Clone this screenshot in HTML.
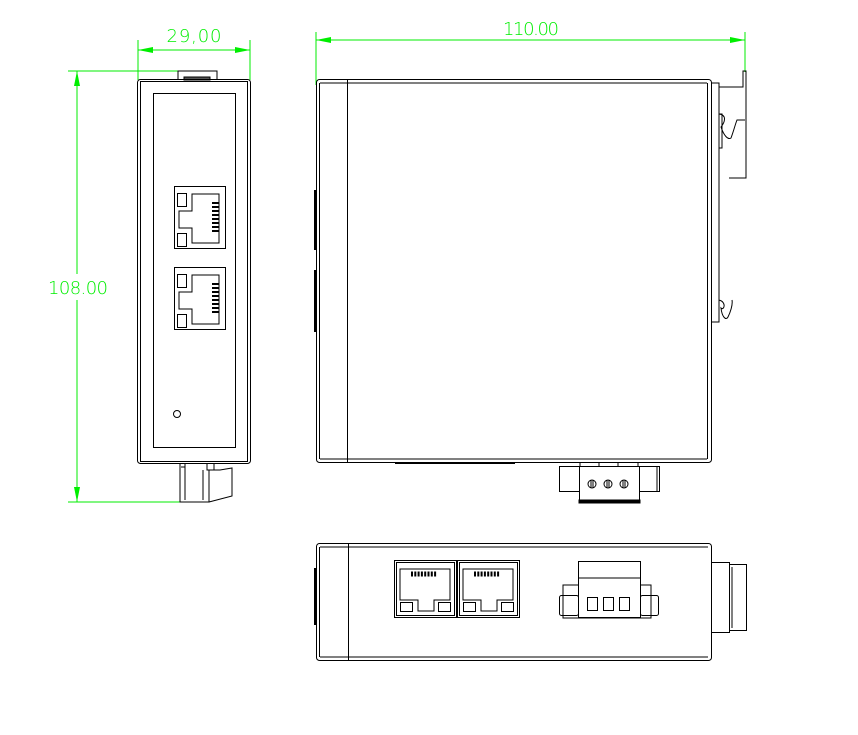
<!DOCTYPE html>
<html><head><meta charset="utf-8"><style>html,body{margin:0;padding:0;background:#fff}svg{display:block}</style></head>
<body>
<svg width="858" height="735" viewBox="0 0 858 735" xmlns="http://www.w3.org/2000/svg">
<g fill="none" stroke="#00ee00" stroke-width="1">
  <line x1="138" y1="40" x2="138" y2="80"/><line x1="250" y1="40" x2="250" y2="80"/>
  <line x1="138" y1="50" x2="250" y2="50"/>
  <line x1="68" y1="71" x2="178" y2="71"/><line x1="68" y1="502" x2="180" y2="502"/>
  <line x1="77" y1="71" x2="77" y2="274"/><line x1="77" y1="300" x2="77" y2="502"/>
  <line x1="316" y1="32" x2="316" y2="85"/><line x1="745" y1="32" x2="745" y2="72"/>
  <line x1="316" y1="40" x2="745" y2="40"/>
</g>
<g fill="#00ee00">
  <polygon points="138,50 153,47 153,53"/><polygon points="250,50 235,47 235,53"/>
  <polygon points="77,71 74,86 80,86"/><polygon points="77,502 74,487 80,487"/>
  <polygon points="316,40 331,37 331,43"/><polygon points="745,40 730,37 730,43"/>
</g>
<g fill="#00ee00" font-family="DejaVu Sans, Liberation Sans, sans-serif" font-size="18" font-weight="200">
  <text x="194" y="42" text-anchor="middle" textLength="55">29,00</text>
  <text x="78" y="294" text-anchor="middle" textLength="60">108.00</text>
  <text x="531" y="35" text-anchor="middle" textLength="56">110.00</text>
</g>
<g fill="none" stroke="#000" stroke-width="1">
  <path d="M178,80 V71 H217 V80"/><rect x="184" y="77" width="26" height="3" fill="#555"/>
  <rect x="137.5" y="79.5" width="113" height="384" rx="3"/>
  <rect x="140.5" y="81.5" width="107" height="380"/>
  <rect x="153.5" y="93.5" width="82" height="354"/>
  <g id="rj">
    <rect x="174.5" y="186.5" width="51" height="62"/>
    <path d="M192,194 H219 V243 H192 V228 H179 V211 H192 Z"/>
    <rect x="177.5" y="193.5" width="9" height="13"/><rect x="177.5" y="233.5" width="9" height="13"/>
    <g stroke="#000" stroke-width="2"><line x1="212" y1="203" x2="219" y2="203"/><line x1="212" y1="207" x2="219" y2="207"/><line x1="212" y1="211" x2="219" y2="211"/><line x1="212" y1="215" x2="219" y2="215"/><line x1="212" y1="219" x2="219" y2="219"/><line x1="212" y1="223" x2="219" y2="223"/><line x1="212" y1="227" x2="219" y2="227"/><line x1="212" y1="231" x2="219" y2="231"/></g>
  </g>
  <use href="#rj" y="81"/>
  <circle cx="177" cy="414" r="3.5"/>
  <path d="M180,464 V502 H209 V470 H214 V464"/><line x1="181" y1="467" x2="185" y2="467"/>
  <path d="M207,464 V470 H220 L232,468 V496 L209,502"/><line x1="185" y1="464" x2="185" y2="500"/><line x1="203" y1="470" x2="203" y2="500"/>
  <rect x="316.5" y="79.5" width="395" height="383" rx="3"/>
  <line x1="320" y1="83" x2="707" y2="83"/><line x1="320" y1="459" x2="707" y2="459"/>
  <line x1="319.5" y1="83" x2="319.5" y2="459"/><line x1="347.5" y1="80" x2="347.5" y2="462"/>
  <line x1="707.5" y1="83" x2="707.5" y2="459"/>
  <rect x="314" y="190" width="2" height="60" fill="#000" stroke="none"/>
  <rect x="314" y="270" width="2" height="62" fill="#000" stroke="none"/>
  <line x1="395" y1="463" x2="515" y2="463" stroke-width="2"/>
  <path d="M711,83 H719 V87 H743 V71 H746 V178 H729"/>
  <path d="M719,87 V114 C727,115 725,122 721,127 C724,136 728,140 731,138 C734,130 735,125 737,120 H745"/>
  <rect x="719" y="114" width="3" height="34"/>
  <path d="M719,127 V300 C727,302 724,311 721,308 C722,317 726,321 728,317 C730,313 733,305 732,300"/>
  <path d="M711,322 H719 V300"/>
  <rect x="559.5" y="466.5" width="20" height="25"/><rect x="639.5" y="466.5" width="20" height="25"/>
  <line x1="657" y1="466" x2="657" y2="491"/>
  <rect x="579.5" y="466.5" width="60" height="36"/>
  <rect x="579" y="500" width="61" height="3" fill="#000"/>
  <line x1="580" y1="462" x2="580" y2="467"/><line x1="599" y1="462" x2="599" y2="467"/><line x1="618" y1="462" x2="618" y2="467"/><line x1="638" y1="462" x2="638" y2="467"/>
  <circle cx="592" cy="484" r="4"/><circle cx="608" cy="484" r="4"/><circle cx="624" cy="484" r="4"/>
  <line x1="591" y1="480" x2="591" y2="488"/><line x1="593" y1="480" x2="593" y2="488"/>
  <line x1="607" y1="480" x2="607" y2="488"/><line x1="609" y1="480" x2="609" y2="488"/>
  <line x1="623" y1="480" x2="623" y2="488"/><line x1="625" y1="480" x2="625" y2="488"/>
  <rect x="316.5" y="543.5" width="395" height="117" rx="3"/>
  <line x1="320" y1="547" x2="708" y2="547"/><line x1="320" y1="657" x2="708" y2="657"/>
  <line x1="319.5" y1="547" x2="319.5" y2="657"/><line x1="348.5" y1="544" x2="348.5" y2="660"/>
  <rect x="314" y="568" width="2" height="57" fill="#000" stroke="none"/>
  <g id="rb">
    <rect x="394.5" y="560.5" width="62" height="57"/><rect x="396.5" y="562.5" width="58" height="53"/>
    <path d="M400,569 H450 V600 H434 V611 H418 V600 H400 Z"/>
    <rect x="400.5" y="602.5" width="12" height="9"/><rect x="438.5" y="602.5" width="12" height="9"/>
    <line x1="411" y1="574" x2="437" y2="574" stroke-width="5" stroke-dasharray="2,1.3"/>
  </g>
  <use href="#rb" x="63"/>
  <rect x="578.5" y="561.5" width="62" height="56"/><line x1="578" y1="578" x2="641" y2="578"/>
  <path d="M578,585 H563 V618 H651 V585 H640"/>
  <rect x="559.5" y="595.5" width="19" height="20" rx="2"/><rect x="640.5" y="595.5" width="18" height="20" rx="2"/>
  <rect x="587.5" y="597.5" width="10" height="13"/><rect x="603.5" y="597.5" width="10" height="13"/><rect x="619.5" y="597.5" width="10" height="13"/>
  <rect x="711.5" y="562.5" width="18" height="70"/><rect x="729.5" y="564.5" width="17" height="66"/>
  <line x1="732" y1="567" x2="732" y2="628"/>
</g>
</svg>
</body></html>
